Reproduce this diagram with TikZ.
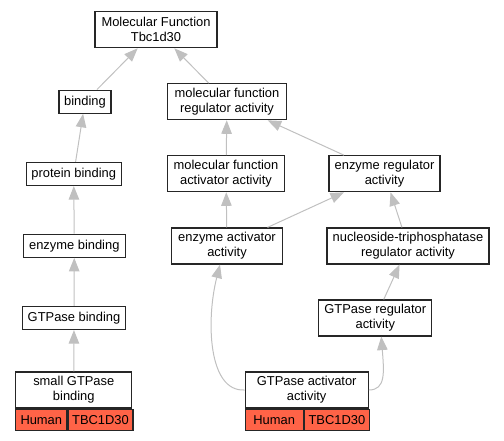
\documentclass[tikz,border=0pt]{standalone}
\usepackage{fontspec}
\setmainfont{Liberation Sans}
\usetikzlibrary{arrows.meta}

\definecolor{edgegray}{RGB}{192,192,192}
\definecolor{humanred}{RGB}{255,99,71}

\tikzset{
  term/.style={draw=black!85, line width=1.2pt, fill=white, align=center, inner sep=0pt,
    minimum width=#1, font=\fontsize{12.9}{15}\selectfont},
  term/.default=100,
  cell/.style={draw=black!85, line width=1.2pt, fill=humanred, inner sep=0pt, anchor=north west,
    minimum width=#1, minimum height=21, font=\fontsize{12.9}{15}\selectfont},
  isa/.style={draw=edgegray, line width=1pt, -{Triangle[length=13.5pt,width=10.5pt,fill=edgegray]}}
}

\begin{document}
\begin{tikzpicture}[x=1pt, y=-1pt]
  \useasboundingbox (0,0) rectangle (504,440);

  \node[term=122, minimum height=36] (mf) at (156,29.7) {Molecular Function\\Tbc1d30};
  \node[term=52, minimum height=23] (bind) at (85,101.7) {binding};
  \node[term=119, minimum height=36] (mfreg) at (227,101.7) {molecular function\\regulator activity};
  \node[term=95, minimum height=23] (protbind) at (73.7,174) {protein binding};
  \node[term=117, minimum height=36] (mfact) at (226,173.7) {molecular function\\activator activity};
  \node[term=111, minimum height=36] (enzreg) at (384.5,173.7) {enzyme regulator\\activity};
  \node[term=102, minimum height=23] (enzbind) at (74.3,245.8) {enzyme binding};
  \node[term=111, minimum height=36] (enzact) at (227,246) {enzyme activator\\activity};
  \node[term=162, minimum height=36] (ntpreg) at (408,246) {nucleoside-triphosphatase\\regulator activity};
  \node[term=103, minimum height=23] (gtpbind) at (74,318) {GTPase binding};
  \node[term=113, minimum height=36] (gtpreg) at (375.3,318) {GTPase regulator\\activity};

  % annotated terms
  \node[term=116, minimum height=36] (sgb) at (73.8,390) {small GTPase\\binding};
  \node[cell=51] (sgbhum) at (sgb.south west) {Human};
  \node[cell=65] (sgbgene) at (sgbhum.north east) {TBC1D30};
  \node[term=123, minimum height=36] (gap) at (306.7,390) {GTPase activator\\activity};
  \node[cell=58] (gaphum) at (gap.south west) {Human};
  \node[cell=65] (gapgene) at (gaphum.north east) {TBC1D30};

  \draw[isa] (bind) -- (mf);
  \draw[isa] (mfreg) -- (mf);
  \draw[isa] (protbind) -- (bind);
  \draw[isa] (mfact) -- (mfreg);
  \draw[isa] (enzreg) -- (mfreg);
  \draw[isa] (enzbind) -- (protbind);
  \draw[isa] (enzact) -- (mfact);
  \draw[isa] (enzact) -- (enzreg);
  \draw[isa] (ntpreg) -- (enzreg);
  \draw[isa] (gtpbind) -- (enzbind);
  \draw[isa] (gtpreg) -- (ntpreg);
  \draw[isa] (sgb) -- (gtpbind);
  \draw[isa] (gap.west) .. controls (208,392) and (206,320) .. ([xshift=-7pt]enzact.south);
  \draw[isa] (gap.east) .. controls (386,390) and (384,372) .. ([xshift=6pt]gtpreg.south);
\end{tikzpicture}
\end{document}
